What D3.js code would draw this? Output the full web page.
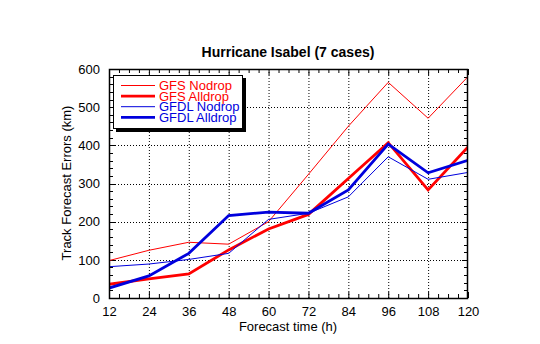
<!DOCTYPE html>
<html><head><meta charset="utf-8">
<script src="https://cdn.jsdelivr.net/npm/d3@7"></script>
<style>body{margin:0;background:#fff}svg{display:block}text{font-family:"Liberation Sans",Arial,sans-serif}</style>
</head><body><svg id="c" width="540" height="344"></svg>
<script>
const hours = [12,24,36,48,60,72,84,96,108,120];
const gfsNodrop   = [98,125,146,141,200,324,450,565,471,580];
const gfsAlldrop  = [36,50,63,126,181,219,313,407,283,396];
const gfdlNodrop  = [82,89,101,117,206,222,265,370,311,329];
const gfdlAlldrop = [26,58,117,216,225,222,283,403,328,361];
const xTicks = [12,24,36,48,60,72,84,96,108,120];
const yTicks = [0,100,200,300,400,500,600];
const seriesNames = ["GFS Nodrop","GFS Alldrop","GFDL Nodrop","GFDL Alldrop"];

const RED="#ff0000", BLUE="#0000dd";
const series = [
  {name:seriesNames[0], values:gfsNodrop, color:RED, w:1},
  {name:seriesNames[1], values:gfsAlldrop, color:RED, w:2.8},
  {name:seriesNames[2], values:gfdlNodrop, color:BLUE, w:1},
  {name:seriesNames[3], values:gfdlAlldrop, color:BLUE, w:2.8}
];

const svg = d3.select("#c");
const L=109, R=468, T=69, B=298;
const x = d3.scaleLinear().domain([12,120]).range([L,R]);
const y = d3.scaleLinear().domain([0,600]).range([B,T]);

// grid
const g = svg.append("g");
g.selectAll(".gx").data(xTicks.slice(1,-1)).enter().append("line")
 .attr("x1",d=>x(d)+0.5).attr("x2",d=>x(d)+0.5).attr("y1",T).attr("y2",B)
 .attr("stroke","#000").attr("stroke-width",1).attr("stroke-dasharray","1,2");
g.selectAll(".gy").data(yTicks.slice(1,-1)).enter().append("line")
 .attr("y1",d=>Math.round(y(d))+0.5).attr("y2",d=>Math.round(y(d))+0.5).attr("x1",L).attr("x2",R)
 .attr("stroke","#000").attr("stroke-width",1).attr("stroke-dasharray","1,2");

// minor ticks
const xMinor = d3.range(12,121,3);
const yMinor = d3.range(0,601,20);
const tk = svg.append("g").attr("stroke","#000").attr("stroke-width",1);
xMinor.forEach(v=>{
  const len = (v%12===0)?6:4;
  tk.append("line").attr("x1",x(v)+0.5).attr("x2",x(v)+0.5).attr("y1",B).attr("y2",B-len);
  tk.append("line").attr("x1",x(v)+0.5).attr("x2",x(v)+0.5).attr("y1",T).attr("y2",T+len);
});
yMinor.forEach(v=>{
  const len = (v%100===0)?6:4;
  const yy=Math.round(y(v))+0.5;
  tk.append("line").attr("x1",L).attr("x2",L+len).attr("y1",yy).attr("y2",yy);
  tk.append("line").attr("x1",R).attr("x2",R-len).attr("y1",yy).attr("y2",yy);
});

// axes via d3
const xAxis = d3.axisBottom(x).tickValues(xTicks).tickSize(0).tickPadding(9);
const ax = svg.append("g").attr("transform",`translate(0,${B})`).call(xAxis);
ax.select(".domain").remove();
ax.selectAll("text").attr("font-size","13px").attr("fill","#000").attr("font-family","Liberation Sans, Arial, sans-serif");
const yAxis = d3.axisLeft(y).tickValues(yTicks).tickSize(0).tickPadding(9);
const ay = svg.append("g").attr("transform",`translate(${L},0)`).call(yAxis);
ay.select(".domain").remove();
ay.selectAll("text").attr("font-size","13px").attr("fill","#000").attr("font-family","Liberation Sans, Arial, sans-serif");

// lines
const line = d3.line().x((d,i)=>x(hours[i])).y(d=>y(d));
svg.append("clipPath").attr("id","clp").append("rect").attr("x",L).attr("y",T).attr("width",R-L).attr("height",B-T);
series.forEach(s=>{
  svg.append("path").datum(s.values).attr("d",line).attr("fill","none")
   .attr("stroke",s.color).attr("stroke-width",s.w).attr("clip-path","url(#clp)");
});

// frame
svg.append("rect").attr("x",L+0.5).attr("y",T+0.5).attr("width",R-L-1).attr("height",B-T)
 .attr("fill","none").attr("stroke","#000").attr("stroke-width",1.5);

// legend
const lg = svg.append("g");
lg.append("rect").attr("x",116).attr("y",78).attr("width",130).attr("height",54).attr("fill","#000");
lg.append("rect").attr("x",113.5).attr("y",75.5).attr("width",129).attr("height",53).attr("fill","#fff").attr("stroke","#000").attr("stroke-width",1);
series.forEach((s,i)=>{
  const yy = 85.5 + i*10.6;
  lg.append("line").attr("x1",121).attr("x2",155).attr("y1",yy).attr("y2",yy).attr("stroke",s.color).attr("stroke-width",s.w);
  lg.append("text").attr("x",159).attr("y",yy+4.5).attr("font-size","13px").attr("fill",s.color).text(s.name);
});

// title & labels
svg.append("text").attr("x",288).attr("y",57).attr("text-anchor","middle").attr("font-size","14px").attr("font-weight","bold").text("Hurricane Isabel (7 cases)");
svg.append("text").attr("x",288).attr("y",331).attr("text-anchor","middle").attr("font-size","13px").text("Forecast time (h)");
svg.append("text").attr("transform","translate(71,183) rotate(-90)").attr("text-anchor","middle").attr("font-size","13px").text("Track Forecast Errors (km)");
</script></body></html>
